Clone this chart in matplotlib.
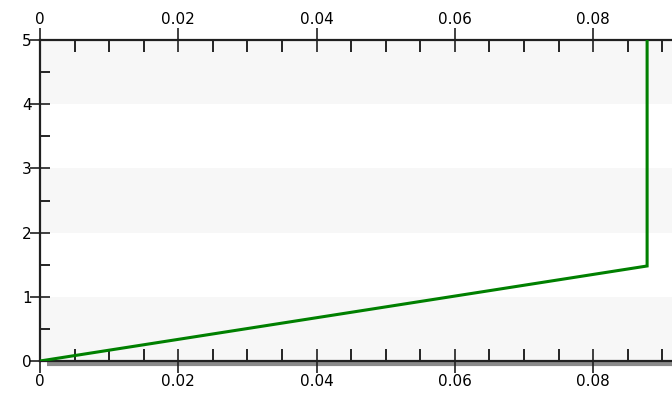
import matplotlib
matplotlib.use("Agg")
import matplotlib.pyplot as plt
from matplotlib.ticker import MultipleLocator

# data
xs = [0.0, 0.0878, 0.0878]
ys = [0.0, 1.48, 5.0]
x_ticks = [0, 0.02, 0.04, 0.06, 0.08]
x_labels = ["0", "0.02", "0.04", "0.06", "0.08"]
y_ticks = [0, 1, 2, 3, 4, 5]
band_rows = [0, 2, 4]

W, H = 672, 394
fig = plt.figure(figsize=(W / 100, H / 100), dpi=100)
ax = fig.add_axes([40 / W, (H - 361) / H, (W - 40) / W, (361 - 40) / H])
ax.set_xlim(0, 0.0914)
ax.set_ylim(0, 5)

for b in band_rows:
    ax.axhspan(b, b + 1, color="#f7f7f7", lw=0, zorder=0)

ax.plot(xs, ys, color="#008000", lw=2.2, zorder=3, solid_joinstyle="miter")

for s in ["left", "top", "bottom"]:
    ax.spines[s].set_linewidth(1.6)
    ax.spines[s].set_color("#202020")
ax.spines["right"].set_visible(False)

# shadow under bottom axis
ax.plot([(47 - 40) / (W - 40), 1.0], [-2.5 / 321, -2.5 / 321],
        transform=ax.transAxes, color="#8a8a8a", lw=3.0, clip_on=False, zorder=1,
        solid_capstyle="butt")

ax.set_xticks(x_ticks)
ax.set_xticklabels(x_labels)
ax.set_yticks(y_ticks)
ax.xaxis.set_minor_locator(MultipleLocator(0.005))
ax.yaxis.set_minor_locator(MultipleLocator(0.5))

ax.tick_params(axis="x", which="major", direction="inout", length=17, width=1.2,
               top=True, bottom=True, labeltop=True, labelbottom=True, pad=0.5,
               labelsize=11, colors="#202020")
ax.tick_params(axis="x", which="minor", direction="in", length=8.5, width=1.2,
               top=True, bottom=True)
ax.tick_params(axis="y", which="major", direction="inout", length=14, width=1.2,
               left=True, right=False, pad=-1, labelsize=11, colors="#202020")
ax.tick_params(axis="y", which="minor", direction="in", length=7.5, width=1.2,
               left=True, right=False)
for lab in ax.get_xticklabels() + ax.get_yticklabels():
    lab.set_color("black")

fig.savefig("out.png", dpi=100)
